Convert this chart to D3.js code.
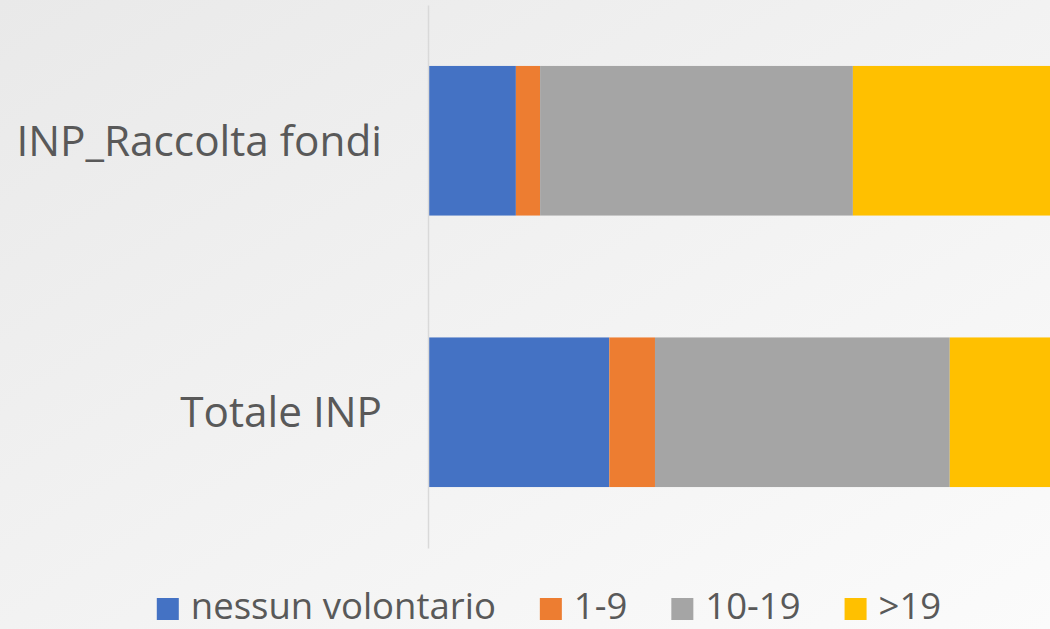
<!DOCTYPE html>
<html>
<head>
<meta charset="utf-8">
<script src="https://cdn.jsdelivr.net/npm/d3@7"></script>
<style>
  html, body { margin: 0; padding: 0; overflow: hidden; }
  svg { display: block; font-family: "Open Sans", sans-serif; }
</style>
</head>
<body>
<svg id="chart"></svg>
<script>
const width = 1050;
const height = 629;

// data (percent shares)
const categories = ['INP_Raccolta fondi', 'Totale INP'];
const seriesNames = ['nessun volontario', '1-9', '10-19', '>19'];
const nessunVolontario = [12.7, 26.2];
const da1a9 = [3.5, 6.6];
const da10a19 = [45.2, 42.6];
const oltre19 = [38.6, 24.6];
const colors = ['#4472C4', '#ED7D31', '#A5A5A5', '#FFC000'];

const rows = categories.map((c, i) => ({
    cat: c,
    'nessun volontario': nessunVolontario[i],
    '1-9': da1a9[i],
    '10-19': da10a19[i],
    '>19': oltre19[i]
}));

const svg = d3.select('#chart')
    .attr('width', width)
    .attr('height', height);

const grad = svg.append('defs').append('linearGradient')
    .attr('id', 'bg')
    .attr('x1', '0%').attr('y1', '0%')
    .attr('x2', '100%').attr('y2', '100%');
grad.append('stop').attr('offset', '0%').attr('stop-color', '#e9e9e9');
grad.append('stop').attr('offset', '100%').attr('stop-color', '#fbfbfb');

svg.append('rect')
    .attr('width', width)
    .attr('height', height)
    .attr('fill', 'url(#bg)');

const margin = {top: 5, left: 428, bottom: 81};
const plotW = 692;   // 100% runs past the right edge of the picture

const x = d3.scaleLinear()
    .domain([0, 100])
    .range([margin.left, margin.left + plotW]);
const y = d3.scaleBand()
    .domain(categories)
    .range([margin.top, height - margin.bottom])
    .paddingInner(0.449)
    .paddingOuter(0.2245);

const stack = d3.stack().keys(seriesNames);
const layers = stack(rows);

svg.append('g')
    .selectAll('g')
    .data(layers)
    .enter().append('g')
        .attr('fill', (d, i) => colors[i])
    .selectAll('rect')
    .data(d => d)
    .enter().append('rect')
        .attr('x', d => x(d[0]))
        .attr('y', d => y(d.data.cat))
        .attr('width', d => x(d[1]) - x(d[0]))
        .attr('height', y.bandwidth());

const yAxis = d3.axisLeft(y).tickSize(0).tickSizeOuter(0).tickPadding(46);
const ga = svg.append('g')
    .attr('transform', `translate(${margin.left},0)`)
    .call(yAxis);
ga.select('.domain')
    .attr('stroke', '#d9d9d9')
    .attr('stroke-width', 1.5);
ga.selectAll('text')
    .attr('fill', '#595959')
    .attr('font-size', 42.3)
    .attr('font-family', '"Open Sans", sans-serif')
    .attr('dy', '0.36em');

// legend
const legend = svg.append('g');
let cx = 0;
seriesNames.forEach((name, i) => {
    const g = legend.append('g');
    g.append('rect')
        .attr('x', 0).attr('y', 598)
        .attr('width', 22).attr('height', 22)
        .attr('fill', colors[i]);
    const t = g.append('text')
        .attr('x', 34).attr('y', 619)
        .attr('fill', '#595959')
        .attr('font-size', 36.5)
        .text(name);
    const w = t.node().getComputedTextLength();
    g.attr('transform', `translate(${cx},0)`);
    cx += 34 + w + 44;
});
const total = cx - 44;
legend.attr('transform', `translate(${549 - total / 2},0)`);
</script>
</body>
</html>
